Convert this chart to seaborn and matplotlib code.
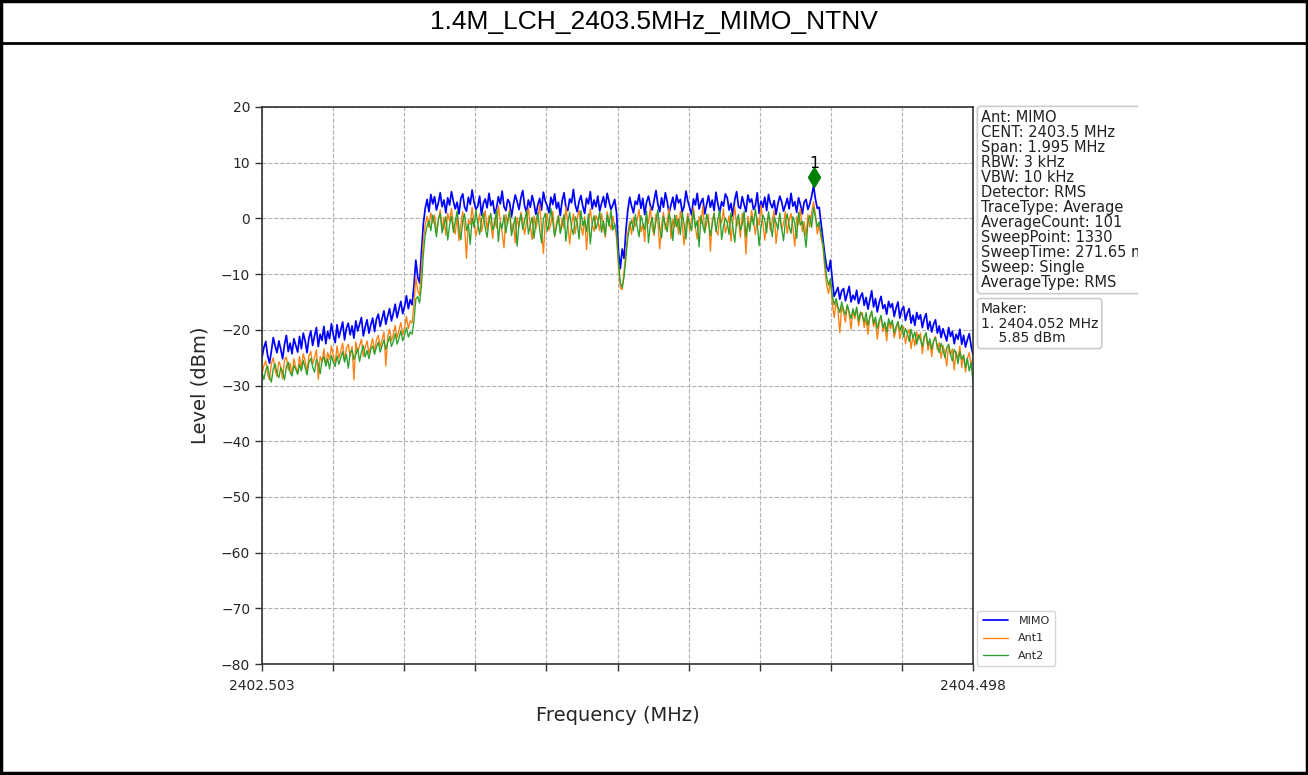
import numpy as np
import pandas as pd
import matplotlib
matplotlib.use("Agg")
import matplotlib.pyplot as plt
import seaborn as sns
from matplotlib.transforms import Bbox, TransformedBbox
from matplotlib.lines import Line2D

# ---- sweep description ----
title = "1.4M_LCH_2403.5MHz_MIMO_NTNV"
f_start, f_stop = 2402.503, 2404.498
y_ticks = list(range(-80, 21, 10))
marker_freq = 2404.052
marker_level = 5.85

info_lines = [
    "Ant: MIMO",
    "CENT: 2403.5 MHz",
    "Span: 1.995 MHz",
    "RBW: 3 kHz",
    "VBW: 10 kHz",
    "Detector: RMS",
    "TraceType: Average",
    "AverageCount: 101",
    "SweepPoint: 1330",
    "SweepTime: 271.65 ms",
    "Sweep: Single",
    "AverageType: RMS",
]

# ---- trace levels (dBm), evenly spaced over the span ----
mimo = [
    -25.0, -23.2, -22.1, -24.6, -26.0, -23.8, -21.4, -22.9, -24.1, -22.0, -23.5, -25.2, -22.6, -21.0, -23.9, -22.4, -24.3, -21.6, -22.8, -24.0,
    -21.2, -23.4, -20.6, -22.0, -24.1, -21.5, -20.2, -22.8, -21.1, -19.6, -23.0, -20.8, -21.9, -19.4, -22.5, -20.3, -21.6, -18.9, -20.9, -22.3,
    -19.1, -21.4, -20.0, -18.6, -21.8, -19.7, -18.8, -20.9, -19.3, -21.5, -18.4, -20.2, -19.0, -17.8, -21.1, -19.5, -18.2, -20.6, -19.1, -17.9,
    -20.3, -18.1, -17.2, -19.4, -18.0, -16.6, -19.0, -17.5, -16.2, -18.4, -17.0, -15.4, -17.8, -16.3, -14.9, -17.1, -15.8, -13.9, -16.2, -14.6,
    -15.5, -12.0, -7.5, -10.5, -11.6, -6.0, -1.0, 1.8, 3.4, 1.2, 4.3, 2.6, 3.9, 1.5, 2.8, 4.6, 2.1, 3.3, 1.0, 3.7,
    2.4, 4.8, 3.1, 1.7, 2.9, 0.8, 3.6, 4.4, 2.0, 1.3, 3.8, 2.5, 5.1, 3.0, 1.6, 2.2, 4.0, 0.6, 2.7, 3.5,
    1.9, 4.5, 2.3, 3.2, 0.9, 1.8, 3.9, 2.6, 4.9, 2.1, 1.4, 3.4, 2.8, 0.3, 2.5, 4.2, 3.0, 1.6, 3.7, 5.0,
    2.2, 1.1, 3.3, 2.0, 4.1, 2.7, 0.7, 2.4, 3.6, 1.5, 4.7, 3.1, 2.3, 1.0, 3.8, 2.5, 4.4, 1.8, 2.9, 0.5,
    3.2, 4.6, 2.0, 1.4, 3.5, 2.8, 5.2, 2.4, 1.2, 3.0, 4.1, 2.2, 0.9, 3.6, 2.6, 4.8, 1.7, 3.3, 2.1, 4.0,
    1.3, 2.7, 3.9, 2.0, 4.5, 3.0, 1.6, 2.4, 3.4, 1.0, -6.0, -9.0, -5.5, -7.2, -2.0, 1.5, 3.8, 2.2, 1.0, 3.1,
    2.5, 4.3, 1.8, 3.6, 0.7, 2.9, 4.0, 2.3, 1.5, 3.3, 5.0, 2.6, 1.2, 3.7, 2.0, 4.6, 3.0, 0.9, 2.4, 3.8,
    1.6, 4.2, 2.8, 3.4, 1.1, 2.2, 4.9, 3.1, 1.9, 0.6, 3.5, 2.4, 4.5, 1.7, 2.9, 3.6, 0.8, 2.5, 4.1, 2.0,
    3.3, 1.4, 4.7, 2.6, 1.0, 3.0, 2.2, 4.4, 3.7, 1.5, 2.7, 0.4, 3.4, 4.8, 2.1, 1.8, 3.9, 2.5, 1.2, 4.2,
    2.9, 3.5, 1.6, 2.3, 4.6, 0.9, 3.1, 2.0, 3.8, 1.4, 4.3, 2.7, 1.9, 3.2, 0.7, 2.6, 4.0, 3.0, 1.3, 2.4,
    3.6, 1.7, 4.5, 2.2, 3.0, 1.1, 3.7, 2.5, 0.8, 2.9, 3.4, 1.6, 2.6, 4.0, 5.85, 3.5, 1.8, 2.0, -0.8, -3.5,
    -6.5, -8.7, -9.5, -7.5, -11.0, -14.0, -13.2, -12.4, -14.5, -13.0, -12.6, -14.8, -13.5, -12.2, -15.0, -13.8, -14.6, -12.9, -15.3, -14.1,
    -13.4, -15.6, -14.2, -16.3, -14.7, -13.0, -15.9, -14.4, -16.8, -15.1, -14.0, -16.2, -15.5, -17.2, -14.9, -16.0, -15.3, -17.6, -16.1, -15.0,
    -17.9, -16.4, -15.8, -18.3, -17.0, -16.2, -18.8, -17.4, -19.2, -16.9, -18.1, -17.3, -19.6, -18.0, -17.1, -19.9, -18.5, -20.4, -19.0, -18.2,
    -20.6, -19.3, -21.4, -19.8, -20.9, -22.0, -19.6, -21.2, -20.3, -22.5, -20.8, -21.7, -19.9, -22.6, -21.0, -23.1, -21.8, -20.7, -22.9, -24.5,
]

ant1 = [
    -28.0, -26.4, -25.6, -27.9, -29.0, -26.1, -25.0, -27.3, -28.4, -25.7, -26.6, -28.8, -25.4, -24.9, -27.2, -26.0, -28.1, -25.2, -26.7, -27.8,
    -24.8, -26.9, -24.3, -25.6, -27.5, -24.7, -23.9, -26.2, -25.0, -23.6, -28.9, -24.8, -25.7, -23.4, -26.4, -24.1, -25.3, -22.9, -24.6, -26.0,
    -22.9, -25.1, -23.8, -22.4, -25.6, -23.3, -22.6, -24.7, -23.0, -29.0, -22.2, -24.0, -22.9, -21.7, -24.8, -23.2, -22.0, -24.3, -22.8, -21.6,
    -24.0, -21.8, -21.0, -23.1, -21.7, -20.4, -26.5, -21.2, -19.9, -22.0, -20.8, -19.2, -21.5, -20.1, -18.7, -20.9, -19.5, -17.6, -19.8, -18.4,
    -18.8, -15.5, -10.5, -13.0, -13.8, -9.0, -4.0, -1.2, 0.4, -1.6, 1.0, -0.8, 0.6, -2.5, -0.3, 1.5, -1.9, 0.2, -3.0, 0.9,
    -0.5, 1.8, -1.4, -2.8, 0.3, -4.0, -0.9, 1.2, -1.8, -7.2, -0.2, -1.1, 2.0, -0.6, -3.2, -1.5, 0.8, -2.4, -0.7, 1.4,
    -2.0, 0.5, -1.2, -3.6, 0.0, -1.7, 2.3, -0.4, -2.6, -5.3, 0.7, -1.0, 1.6, -2.2, -0.8, -4.4, 0.2, -1.5, 1.1, -0.3,
    -2.9, -0.6, 1.9, -1.3, -3.8, 0.4, -1.9, -0.2, 2.5, -1.6, -6.3, -0.5, 0.9, -2.1, -1.0, 1.3, -3.3, -0.7, 0.6, -2.5,
    0.1, -1.8, 2.1, -0.9, -4.6, -1.2, 0.8, -2.7, -0.1, 1.5, -1.4, -3.0, 0.3, -5.6, -0.8, 1.7, -1.1, -2.3, 0.5, -0.4,
    -2.2, 0.9, -1.6, -3.4, 1.2, -0.5, -2.0, 0.4, -1.3, -3.5, -8.5, -12.5, -12.8, -9.5, -6.0, -2.5, -0.6, -2.9, 0.2, -1.4,
    -0.3, 1.6, -2.4, -1.0, -4.2, 0.5, -0.9, 2.0, -1.7, -3.1, 0.8, -0.4, -5.5, -1.2, 1.1, -2.0, -0.6, 1.8, -3.6, -0.2,
    -1.5, 0.6, -2.8, 1.3, -0.7, -4.8, -1.1, 0.9, -2.3, -0.1, 1.9, -1.6, -3.7, 0.3, -0.9, 2.2, -2.5, -1.0, 0.7, -5.9,
    -0.4, 1.0, -1.9, -3.0, 0.2, -0.8, 1.7, -2.6, -1.3, 0.5, -4.1, -0.6, 2.1, -1.5, -0.2, -3.4, 0.9, -1.1, -6.4, 0.4,
    -1.8, 1.4, -0.5, -2.9, 0.1, -1.2, 2.4, -0.7, -3.9, -1.0, 0.8, -2.2, -0.3, 1.5, -4.5, -1.4, 0.6, -2.0, -0.9, 1.2,
    -2.7, -0.4, 0.9, -1.6, -5.0, 0.3, -1.1, 1.8, -2.4, -0.6, -3.2, 0.7, -1.5, 1.0, 3.0, 0.6, -2.8, -1.0, -3.6, -5.0,
    -9.0, -12.0, -13.5, -11.0, -15.2, -17.8, -15.0, -16.4, -20.5, -15.8, -16.9, -18.6, -15.6, -17.2, -19.9, -16.5, -18.0, -16.1, -19.3, -17.4,
    -16.9, -19.6, -18.0, -20.8, -17.6, -16.8, -19.4, -18.2, -21.7, -18.9, -17.7, -20.3, -19.1, -22.0, -18.5, -19.8, -18.7, -21.4, -20.0, -18.6,
    -21.6, -20.1, -19.4, -22.5, -20.7, -19.9, -23.4, -21.0, -22.9, -20.4, -21.8, -20.6, -24.3, -21.5, -20.8, -23.7, -22.1, -24.8, -21.9, -21.2,
    -23.6, -22.3, -25.1, -22.8, -24.0, -26.5, -22.7, -24.6, -23.4, -27.2, -23.9, -25.3, -22.9, -26.8, -24.5, -27.6, -25.2, -24.1, -26.4, -25.0,
]

ant2 = [
    -27.6, -28.9, -27.2, -26.5, -28.4, -29.4, -27.0, -26.1, -27.8, -28.6, -26.8, -27.5, -29.0, -26.6, -25.8, -27.7, -28.3, -26.4, -27.1, -28.0,
    -26.2, -27.4, -25.5, -26.8, -28.1, -25.9, -25.1, -26.7, -27.6, -25.3, -26.1, -27.9, -25.6, -24.8, -26.5, -25.2, -27.0, -24.6, -25.8, -26.6,
    -24.7, -26.2, -25.0, -23.9, -25.8, -24.4, -26.9, -24.1, -23.6, -25.3, -24.5, -23.3, -25.7, -24.0, -22.8, -24.9, -23.7, -25.2, -23.5, -22.9,
    -24.4, -23.1, -22.2, -24.0, -22.9, -21.8, -23.5, -22.4, -21.2, -23.0, -22.1, -20.7, -22.6, -21.5, -20.2, -22.0, -20.9, -19.6, -21.3, -20.4,
    -20.8, -18.5, -14.5, -14.0, -15.2, -12.0, -6.5, -3.0, -1.4, -0.4, -2.2, 0.6, -1.0, -3.3, -0.2, 0.9, -2.6, -1.2, 0.3, -3.9,
    -1.2, 0.4, -2.5, -0.6, 1.3, -1.9, -3.8, -0.4, 0.8, -2.2, -1.0, -4.7, 0.1, -1.6, 1.5, -0.8, -2.9, -0.3, 1.0, -1.7,
    -3.4, -0.5, 0.9, -2.1, -1.1, 1.6, -4.2, -0.7, -1.8, 0.6, -2.6, -0.2, 1.2, -3.1, -1.4, 0.3, -5.0, -0.9, 0.7, -2.0,
    -0.4, 1.4, -2.8, -1.2, 0.2, -3.6, -0.6, 1.0, -1.9, -4.4, -0.1, 0.9, -2.3, -1.0, 1.8, -0.5, -3.2, -1.5, 0.4, -2.7,
    -1.1, 0.7, -4.1, -0.8, 1.1, -1.7, -2.9, 0.3, -0.6, -3.7, 1.4, -1.3, -0.2, -2.4, 0.8, -4.6, -1.0, 0.5, -1.9, -0.7,
    1.2, -2.5, -0.4, -3.0, 0.6, -1.4, 1.5, -2.1, -0.9, -2.5, -7.5, -11.5, -12.4, -10.5, -7.0, -3.5, -1.5, -0.3, -2.2, 0.7,
    -1.6, -3.3, 0.5, -0.8, -2.0, 1.3, -4.4, -1.1, 0.2, -2.7, -0.5, 1.6, -1.8, -3.5, 0.4, -1.2, -2.4, 0.9, -0.6, -4.0,
    0.6, -1.5, -0.1, -2.9, 1.1, -1.0, -3.7, 0.3, -0.9, -2.2, 1.4, -1.7, -0.4, -5.1, 0.5, -1.3, -2.6, 0.8, -0.7, -3.1,
    -1.1, 0.9, -2.4, -0.2, 1.5, -3.8, -1.4, 0.1, -0.8, -2.9, 1.0, -1.6, -4.3, -0.5, 0.7, -2.1, -1.0, 1.3, -3.4, -0.6,
    -2.3, 0.4, -1.2, 1.7, -0.9, -4.9, -1.5, 0.6, -0.3, -2.6, 1.2, -1.1, -3.3, 0.2, -0.7, -2.0, 1.0, -1.8, -4.0, -0.4,
    0.8, -1.4, -2.7, 0.3, -0.9, -3.6, 1.1, -1.2, -0.5, -2.4, -5.2, -0.8, 0.5, -1.6, 2.0, 0.2, -1.5, -0.6, -2.8, -4.5,
    -7.8, -10.5, -12.0, -10.8, -13.9, -15.5, -14.4, -15.8, -16.9, -15.0, -16.4, -17.3, -15.5, -16.8, -18.0, -16.2, -17.5, -15.9, -18.4, -16.8,
    -17.5, -18.6, -16.9, -19.2, -17.8, -16.6, -18.9, -17.7, -19.8, -18.3, -17.4, -19.6, -18.6, -20.4, -18.0, -19.1, -18.3, -20.6, -19.4, -18.5,
    -20.2, -19.1, -21.3, -19.8, -20.6, -22.1, -19.9, -21.5, -20.4, -22.6, -20.9, -21.7, -23.0, -21.2, -20.5, -22.8, -21.6, -23.5, -22.0, -21.4,
    -22.9, -24.1, -22.4, -23.6, -25.0, -23.2, -22.6, -24.4, -25.6, -23.5, -24.2, -26.1, -23.9, -25.3, -24.6, -26.8, -25.1, -27.4, -25.9, -29.5,
]

trace_names = ["MIMO", "Ant1", "Ant2"]
trace_levels = {"MIMO": mimo, "Ant1": ant1, "Ant2": ant2}
trace_colors = {"MIMO": "blue", "Ant1": "#ff7f0e", "Ant2": "#2ca02c"}
trace_widths = {"MIMO": 1.25, "Ant1": 0.95, "Ant2": 0.95}

frames = []
for name in trace_names:
    lv = trace_levels[name]
    frames.append(pd.DataFrame({
        "Frequency": np.linspace(f_start, f_stop, len(lv)),
        "Level": lv,
        "Trace": name,
    }))
df = pd.concat(frames, ignore_index=True)

sns.set_style("white")
plt.rcParams["font.family"] = ["DejaVu Sans"]

W, H = 1308, 775
fig = plt.figure(figsize=(W / 100, H / 100), dpi=100)
fig.patch.set_facecolor("white")

ax = fig.add_axes([262 / W, 1 - 664 / H, (973 - 262) / W, (664 - 107) / H])

for name in trace_names:
    sns.lineplot(
        data=df[df["Trace"] == name], x="Frequency", y="Level",
        color=trace_colors[name], linewidth=trace_widths[name],
        label=name, sort=False, estimator=None, ax=ax,
    )

ax.set_xlim(f_start, f_stop)
ax.set_ylim(-80, 20)
x_ticks = np.linspace(f_start, f_stop, 11)
ax.set_xticks(x_ticks)
ax.set_xticklabels([f"{f_start:.3f}"] + [""] * 9 + [f"{f_stop:.3f}"], fontsize=10)
ax.set_yticks(y_ticks)
ax.set_yticklabels([f"{v}".replace("-", "\u2212") for v in y_ticks], fontsize=10)
ax.tick_params(axis="both", direction="out", length=5, width=1, color="#333333",
               bottom=True, left=True)
ax.tick_params(axis="x", pad=6)
ax.grid(True, linestyle="--", color="#b0b0b0", linewidth=0.8)
for sp in ax.spines.values():
    sp.set_color("#333333")
    sp.set_linewidth(1.2)
ax.set_xlabel("Frequency (MHz)", fontsize=14, labelpad=9)
ax.set_ylabel("Level (dBm)", fontsize=14, labelpad=8)

# peak marker
ax.plot([marker_freq], [marker_level + 1.6], marker="d", color="green",
        markersize=10.5, linestyle="none", zorder=5)
ax.text(marker_freq, marker_level + 2.7, "1", ha="center", va="bottom",
        fontsize=11.5, color="black", zorder=5)

# legend
leg = ax.legend(loc="lower left", bbox_to_anchor=(1.006, -0.004), fontsize=8,
                frameon=True, borderaxespad=0, handlelength=2.3,
                labelspacing=0.65, borderpad=0.5, handletextpad=0.9)
leg.get_frame().set_edgecolor("#cccccc")

# instrument settings box, clipped at the canvas edge
clip = TransformedBbox(Bbox.from_extents(0, 0, 1138 / W, 1), fig.transFigure)
info = fig.text(981 / W, 1 - 110 / H, "\n".join(info_lines), ha="left", va="top",
                fontsize=10.5, linespacing=1.0, color="#222222",
                bbox=dict(boxstyle="round,pad=0.25", facecolor="white",
                          edgecolor="#cccccc", linewidth=1.2))
info.set_clip_box(clip)
info.set_clip_on(True)

fig.text(981 / W, 1 - 302 / H, "Maker:\n1. 2404.052 MHz\n    5.85 dBm",
         ha="left", va="top", fontsize=10, linespacing=1.05, color="#222222",
         bbox=dict(boxstyle="round,pad=0.25", facecolor="white",
                   edgecolor="#cccccc", linewidth=1.2))

# title bar and page frame
fig.text(0.5, 1 - 22 / H, title, ha="center", va="center", fontsize=19,
         family=["Liberation Sans", "DejaVu Sans"], color="black")
fig.add_artist(Line2D([0, 1], [1 - 43 / H, 1 - 43 / H], transform=fig.transFigure,
                      color="black", linewidth=2))
fig.add_artist(plt.Rectangle((0.001, 0.002), 0.998, 0.997, transform=fig.transFigure,
                             fill=False, edgecolor="black", linewidth=2.5))

fig.savefig("out.png", dpi=100, facecolor="white")
